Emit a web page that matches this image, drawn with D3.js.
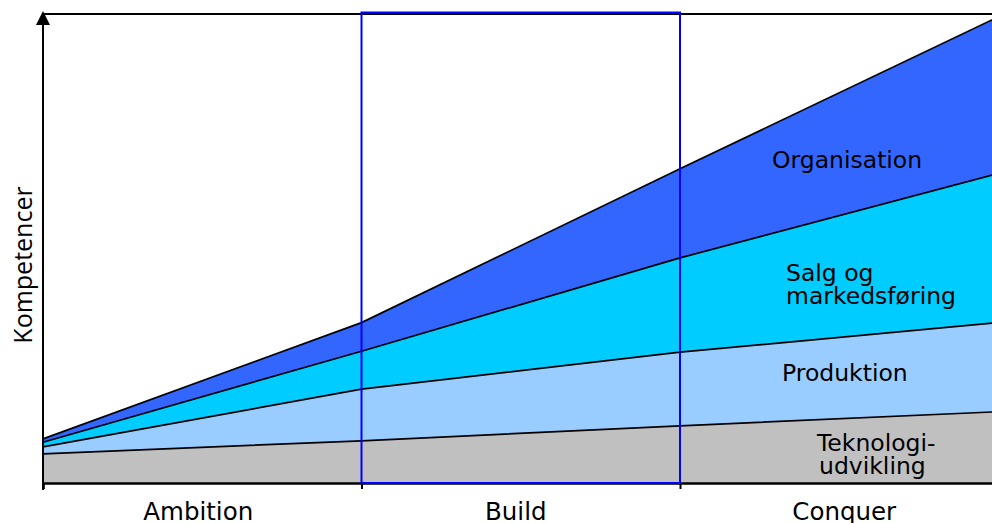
<!DOCTYPE html>
<html>
<head>
<meta charset="utf-8">
<script src="https://cdn.jsdelivr.net/npm/d3@7"></script>
<style>
  html, body { margin: 0; padding: 0; background: #fff; overflow: hidden; }
  svg { display: block; }
</style>
</head>
<body>
<svg id="chart" width="992" height="523"></svg>
<script>
// Phases along the x axis
const phases = ["Ambition", "Build", "Conquer"];

// Competence layers, bottom to top, sampled at the phase boundaries (4 points)
const layers = ["Teknologiudvikling", "Produktion", "Salg og markedsføring", "Organisation"];
const teknologi    = [6.2,  9.0, 12.2, 15.2];
const produktion   = [1.5, 11.0, 15.7, 19.0];
const salg         = [1.0,  8.1, 20.1, 31.8];
const organisation = [0.7,  6.1, 19.0, 33.4];

const layerColors = ["#C0C0C0", "#99CCFF", "#00CCFF", "#3366FF"];

// Label text for each layer (lines)
const layerLabels = [
  ["Teknologi-", "udvikling"],
  ["Produktion"],
  ["Salg og", "markedsføring"],
  ["Organisation"]
];

const rows = teknologi.map((d, i) => ({
  i,
  "Teknologiudvikling": teknologi[i],
  "Produktion": produktion[i],
  "Salg og markedsføring": salg[i],
  "Organisation": organisation[i]
}));

const svg = d3.select("#chart");
const plotLeft = 43, plotRight = 998.5, plotTop = 14, plotBottom = 483;

const xBand = d3.scaleBand().domain(phases).range([plotLeft, plotRight]).padding(0);
const x = d3.scaleLinear().domain([0, phases.length]).range([plotLeft, plotRight]);
const y = d3.scaleLinear().domain([0, 100]).range([plotBottom, plotTop]);

const series = d3.stack().keys(layers)(rows);

const area = d3.area()
  .x(d => x(d.data.i))
  .y0(d => y(d[0]))
  .y1(d => y(d[1]));

const line = d3.line()
  .x(d => x(d.data.i))
  .y(d => y(d[1]));

const g = svg.append("g");

g.selectAll("path.layer")
  .data(series)
  .join("path")
  .attr("class", "layer")
  .attr("d", area)
  .attr("fill", (d, i) => layerColors[i]);

g.selectAll("path.edge")
  .data(series)
  .join("path")
  .attr("class", "edge")
  .attr("d", line)
  .attr("fill", "none")
  .attr("stroke", "#000")
  .attr("stroke-width", 1.7);

// Layer labels, one text element per line
const labelPos = [
  { x: 817, y: 451 },
  { x: 782, y: 381 },
  { x: 786, y: 281 },
  { x: 772, y: 168 }
];
const lineStep = 23;
layerLabels.forEach((lines, k) => {
  lines.forEach((s, j) => {
    svg.append("text")
      .attr("x", labelPos[k].x + (k === 0 && j === 1 ? 2 : 0))
      .attr("y", labelPos[k].y + j * lineStep)
      .attr("font-family", "DejaVu Sans, Verdana, sans-serif")
      .attr("font-size", 23.5)
      .attr("fill", "#000")
      .text(s);
  });
});

// Frame: top rule and baseline
svg.append("line")
  .attr("x1", plotLeft).attr("x2", 992)
  .attr("y1", plotTop).attr("y2", plotTop)
  .attr("stroke", "#000").attr("stroke-width", 2);

const xAxis = d3.axisBottom(x)
  .tickValues(d3.range(phases.length + 1))
  .tickSize(6)
  .tickFormat("");
const ax = svg.append("g")
  .attr("transform", `translate(0,${plotBottom})`)
  .call(xAxis);
ax.select(".domain").attr("stroke", "#000").attr("stroke-width", 2.4);
ax.selectAll(".tick line").attr("stroke", "#000").attr("stroke-width", 2);

// Phase labels (small horizontal nudges per label)
const phaseNudge = [-4, -5, 5];
svg.selectAll("text.phase")
  .data(phases)
  .join("text")
  .attr("class", "phase")
  .attr("x", (d, i) => xBand(d) + xBand.bandwidth() / 2 + phaseNudge[i])
  .attr("y", 520)
  .attr("text-anchor", "middle")
  .attr("font-family", "DejaVu Sans, Verdana, sans-serif")
  .attr("font-size", 24.5)
  .attr("fill", "#000")
  .text(d => d);

// Highlighted phase: Build
svg.append("rect")
  .attr("x", xBand("Build"))
  .attr("y", 12.5)
  .attr("width", xBand.bandwidth())
  .attr("height", plotBottom - 12.5)
  .attr("fill", "none")
  .attr("stroke", "#0000FF")
  .attr("stroke-width", 2);

// Y axis with arrow head
svg.append("line")
  .attr("x1", plotLeft).attr("x2", plotLeft)
  .attr("y1", 20).attr("y2", 490)
  .attr("stroke", "#000").attr("stroke-width", 2);
svg.append("path")
  .attr("d", `M${plotLeft},11 L${plotLeft - 7},25 L${plotLeft + 7},25 Z`)
  .attr("fill", "#000");

svg.append("text")
  .attr("transform", `translate(32,265) rotate(-90)`)
  .attr("text-anchor", "middle")
  .attr("font-family", "Open Sans, sans-serif")
  .attr("font-size", 25)
  .attr("fill", "#000")
  .text("Kompetencer");
</script>
</body>
</html>
